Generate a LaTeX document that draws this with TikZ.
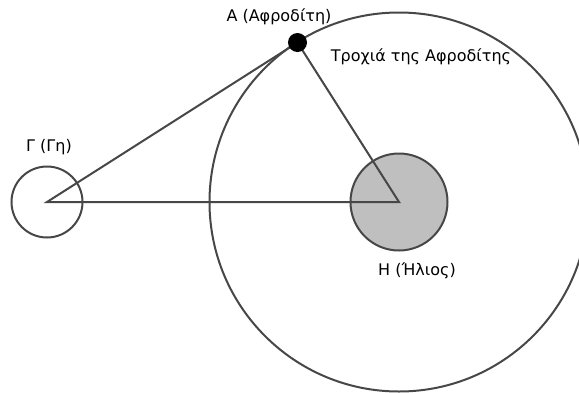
\documentclass[tikz,border=0pt]{standalone}
\usepackage{fontspec}
\setmainfont{DejaVu Sans}
\begin{document}
\begin{tikzpicture}[x=1pt,y=-1pt,
  line/.style={draw=black!72, line width=2pt},
  lbl/.style={font=\fontsize{16}{19}\selectfont, text=black, inner sep=0pt}]
\useasboundingbox (0,0) rectangle (579,392);
\begin{scope}
\clip (0,0) rectangle (579,392);
% orbit of Venus round the Sun
\draw[line] (399,202) circle[radius=189.5];
\end{scope}
% Sun and Earth
\draw[line, fill=black!25] (399,202) circle[radius=48.5];
\draw[line] (47,202) circle[radius=35.5];
\coordinate (H) at (399,202);
\coordinate (G) at (47,202);
\coordinate (A) at (297.5,42.5);
% triangle Earth - Venus - Sun
\draw[line] (G) -- (A) -- (H) -- cycle;
\fill[black] (A) circle[radius=9.5];
% labels
\node[lbl] (la) at (279,17) {Α (Αφροδίτη)};
\node[lbl] (lt) at (421,57) {Τροχιά της Αφροδίτης};
\node[lbl] (lg) at (49,147) {Γ (Γη)};
\node[lbl] (lh) at (417,271) {Η (Ήλιος)};
\end{tikzpicture}
\end{document}
